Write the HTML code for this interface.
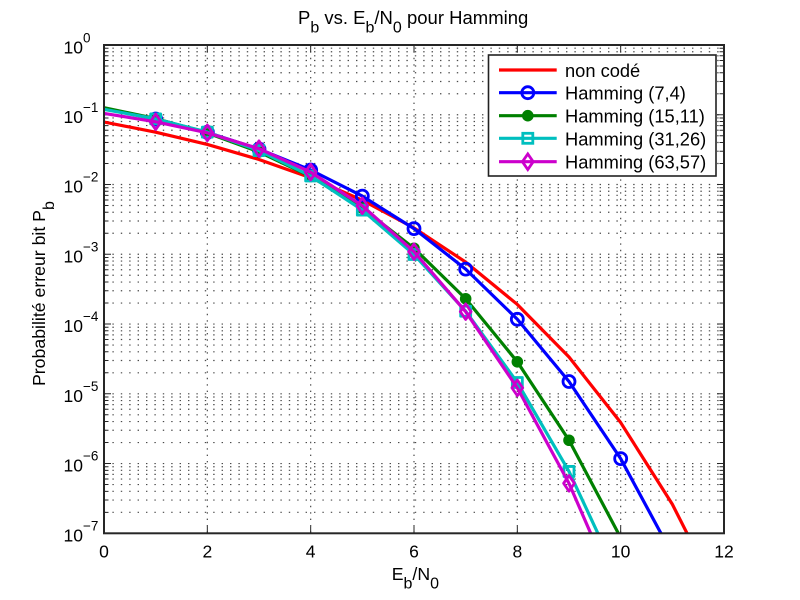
<!DOCTYPE html>
<html><head><meta charset="utf-8"><style>
html,body{margin:0;padding:0;background:#fff;width:800px;height:600px;overflow:hidden;}
svg{display:block;}
text{font-family:"Liberation Sans",Arial,sans-serif;fill:#000;}
</style></head><body>
<svg width="800" height="600" viewBox="0 0 800 600" xmlns="http://www.w3.org/2000/svg" overflow="hidden">
<defs>
<clipPath id="cp"><rect x="104" y="45" width="620" height="488.3"/></clipPath>
<g id="dec">
 <g stroke="#4a4a4a" stroke-width="1.2" stroke-dasharray="1.4 7">
  <line x1="104" x2="724" y1="3.19" y2="3.19"/>
  <line x1="104" x2="724" y1="6.76" y2="6.76"/>
  <line x1="104" x2="724" y1="10.81" y2="10.81"/>
  <line x1="104" x2="724" y1="15.48" y2="15.48"/>
  <line x1="104" x2="724" y1="21.00" y2="21.00"/>
  <line x1="104" x2="724" y1="27.76" y2="27.76"/>
  <line x1="104" x2="724" y1="36.48" y2="36.48"/>
  <line x1="104" x2="724" y1="48.76" y2="48.76"/>
 </g>
 <g stroke="#262626" stroke-width="1">
  <path d="M104 3.19h4.5M104 6.76h4.5M104 10.81h4.5M104 15.48h4.5M104 21h4.5M104 27.76h4.5M104 36.48h4.5M104 48.76h4.5"/>
  <path d="M724 3.19h-4.5M724 6.76h-4.5M724 10.81h-4.5M724 15.48h-4.5M724 21h-4.5M724 27.76h-4.5M724 36.48h-4.5M724 48.76h-4.5"/>
 </g>
</g>
<circle id="mo" r="6" fill="none" stroke="#0000ff" stroke-width="2.8"/>
<circle id="mg" r="5.3" fill="#008000" stroke="#008000" stroke-width="1"/>
<rect id="ms" x="-5" y="-5" width="10" height="10" fill="none" stroke="#00bfbf" stroke-width="2.8"/>
<path id="md" d="M0 -7.8L5.4 0L0 7.8L-5.4 0Z" fill="none" stroke="#cc00cc" stroke-width="2.8"/>
</defs>

<rect width="800" height="600" fill="#fff"/>

<use href="#dec" x="0" y="45"/>
<use href="#dec" x="0" y="114.76"/>
<use href="#dec" x="0" y="184.52"/>
<use href="#dec" x="0" y="254.28"/>
<use href="#dec" x="0" y="324.04"/>
<use href="#dec" x="0" y="393.80"/>
<use href="#dec" x="0" y="463.56"/>

<g stroke="#4a4a4a" stroke-width="1.2" stroke-dasharray="1.4 7">
 <line x1="104" x2="724" y1="114.76" y2="114.76"/>
 <line x1="104" x2="724" y1="184.52" y2="184.52"/>
 <line x1="104" x2="724" y1="254.28" y2="254.28"/>
 <line x1="104" x2="724" y1="324.04" y2="324.04"/>
 <line x1="104" x2="724" y1="393.80" y2="393.80"/>
 <line x1="104" x2="724" y1="463.56" y2="463.56"/>
</g>
<g stroke="#4a4a4a" stroke-width="1.2" stroke-dasharray="1.4 5">
 <line x1="207.33" x2="207.33" y1="45" y2="533.3"/>
 <line x1="310.67" x2="310.67" y1="45" y2="533.3"/>
 <line x1="414" x2="414" y1="45" y2="533.3"/>
 <line x1="517.33" x2="517.33" y1="45" y2="533.3"/>
 <line x1="620.67" x2="620.67" y1="45" y2="533.3"/>
</g>

<g stroke="#262626" stroke-width="1">
 <path d="M104 114.76h7M104 184.52h7M104 254.28h7M104 324.04h7M104 393.8h7M104 463.56h7"/>
 <path d="M724 114.76h-7M724 184.52h-7M724 254.28h-7M724 324.04h-7M724 393.8h-7M724 463.56h-7"/>
 <path d="M207.33 533.3v-7M310.67 533.3v-7M414 533.3v-7M517.33 533.3v-7M620.67 533.3v-7"/>
 <path d="M207.33 45v7M310.67 45v7M414 45v7M517.33 45v7M620.67 45v7"/>
</g>

<g clip-path="url(#cp)" fill="none" stroke-width="3.2" stroke-linejoin="round">
 <polyline stroke="#ff0000" points="104,122.04 155.67,132.18 207.33,144.47 259,159.45 310.67,177.76 362.33,200.23 414,227.91 465.67,262.09 517.33,304.45 569,357.05 620.67,422.55 672.33,504.26 698.17,555.27"/>
 <polyline stroke="#0000ff" points="104,108.39 155.67,119.04 207.33,132.42 259,149.07 310.67,170.00 362.33,196.10 414,228.63 465.67,269.10 517.33,319.28 569,381.53 620.67,458.66 672.33,554.44"/>
 <g>
  <use href="#mo" x="155.67" y="119.04"/><use href="#mo" x="207.33" y="132.42"/><use href="#mo" x="259" y="149.07"/>
  <use href="#mo" x="310.67" y="170.00"/><use href="#mo" x="362.33" y="196.10"/><use href="#mo" x="414" y="228.63"/>
  <use href="#mo" x="465.67" y="269.10"/><use href="#mo" x="517.33" y="319.28"/><use href="#mo" x="569" y="381.53"/>
  <use href="#mo" x="620.67" y="458.66"/>
 </g>
 <polyline stroke="#008000" points="104,107.67 155.67,118.58 207.33,132.98 259,151.89 310.67,176.48 362.33,208.09 414,248.27 465.67,298.76 517.33,361.81 569,440.25 620.67,537.71 631.0,561.95"/>
 <g>
  <use href="#mg" x="155.67" y="118.58"/><use href="#mg" x="207.33" y="132.98"/><use href="#mg" x="259" y="151.89"/>
  <use href="#mg" x="310.67" y="176.48"/><use href="#mg" x="362.33" y="208.09"/><use href="#mg" x="414" y="248.27"/>
  <use href="#mg" x="465.67" y="298.76"/><use href="#mg" x="517.33" y="361.81"/><use href="#mg" x="569" y="440.25"/>
 </g>
 <polyline stroke="#00bfbf" points="104,109.34 155.67,118.88 207.33,132.11 259,150.58 310.67,176.00 362.33,210.10 414,254.53 465.67,311.25 517.33,382.52 569,471.45 610.34,560.03"/>
 <g>
  <use href="#ms" x="155.67" y="118.88"/><use href="#ms" x="207.33" y="132.11"/><use href="#ms" x="259" y="150.58"/>
  <use href="#ms" x="310.67" y="176.00"/><use href="#ms" x="362.33" y="210.10"/><use href="#ms" x="414" y="254.53"/>
  <use href="#ms" x="465.67" y="311.25"/><use href="#ms" x="517.33" y="382.52"/><use href="#ms" x="569" y="471.45"/>
 </g>
 <polyline stroke="#cc00cc" points="104,113.41 155.67,121.78 207.33,132.85 259,148.70 310.67,172.12 362.33,205.76 414,251.67 465.67,311.67 517.33,387.88 569,483.35 600.0,554.74"/>
 <g>
  <use href="#md" x="155.67" y="121.78"/><use href="#md" x="207.33" y="132.85"/><use href="#md" x="259" y="148.70"/>
  <use href="#md" x="310.67" y="172.12"/><use href="#md" x="362.33" y="205.76"/><use href="#md" x="414" y="251.67"/>
  <use href="#md" x="465.67" y="311.67"/><use href="#md" x="517.33" y="387.88"/><use href="#md" x="569" y="483.35"/>
 </g>
</g>

<rect x="104" y="45" width="620" height="488.3" fill="none" stroke="#262626" stroke-width="2"/>

<rect x="488.5" y="55" width="227.5" height="121" fill="#fff" stroke="#222" stroke-width="1.6"/>
<g fill="none" stroke-width="3.2">
 <line x1="499" x2="556.7" y1="70" y2="70" stroke="#ff0000"/>
 <line x1="499" x2="556.7" y1="92.7" y2="92.7" stroke="#0000ff"/>
 <line x1="499" x2="556.7" y1="115.7" y2="115.7" stroke="#008000"/>
 <line x1="499" x2="556.7" y1="138.3" y2="138.3" stroke="#00bfbf"/>
 <line x1="499" x2="556.7" y1="161.7" y2="161.7" stroke="#cc00cc"/>
</g>
<use href="#mo" x="527.8" y="92.7"/>
<use href="#mg" x="527.8" y="115.7"/>
<use href="#ms" x="527.8" y="138.3"/>
<use href="#md" x="527.8" y="161.7"/>
<g font-size="18.3">
 <text x="565" y="77">non codé</text>
 <text x="565" y="99.7">Hamming (7,4)</text>
 <text x="565" y="122.7">Hamming (15,11)</text>
 <text x="565" y="145.3">Hamming (31,26)</text>
 <text x="565" y="168.7">Hamming (63,57)</text>
</g>

<g font-size="17.5" text-anchor="middle">
 <text x="104" y="557.5">0</text>
 <text x="207.33" y="557.5">2</text>
 <text x="310.67" y="557.5">4</text>
 <text x="414" y="557.5">6</text>
 <text x="517.33" y="557.5">8</text>
 <text x="620.67" y="557.5">10</text>
 <text x="724" y="557.5">12</text>
</g>

<g font-size="17.5">
 <text x="63.5" y="53.3">10<tspan font-size="13.5" dy="-11">0</tspan></text>
 <text x="63.5" y="123">10<tspan font-size="13.5" dy="-11">−1</tspan></text>
 <text x="63.5" y="192.7">10<tspan font-size="13.5" dy="-11">−2</tspan></text>
 <text x="63.5" y="262.5">10<tspan font-size="13.5" dy="-11">−3</tspan></text>
 <text x="63.5" y="332.2">10<tspan font-size="13.5" dy="-11">−4</tspan></text>
 <text x="63.5" y="402">10<tspan font-size="13.5" dy="-11">−5</tspan></text>
 <text x="63.5" y="471.7">10<tspan font-size="13.5" dy="-11">−6</tspan></text>
 <text x="63.5" y="541.5">10<tspan font-size="13.5" dy="-11">−7</tspan></text>
</g>

<text x="298" y="24" font-size="18.5">P<tspan font-size="16" dy="8.5">b</tspan><tspan dy="-8.5"> vs. E</tspan><tspan font-size="16" dy="8.5">b</tspan><tspan dy="-8.5">/N</tspan><tspan font-size="16" dy="8.5">0</tspan><tspan dy="-8.5"> pour Hamming</tspan></text>

<text x="391.7" y="580" font-size="17.7">E<tspan font-size="16" dy="8.3">b</tspan><tspan dy="-8.3">/N</tspan><tspan font-size="16" dy="8.3">0</tspan></text>

<text transform="translate(45,386) rotate(-90)" font-size="17.7">Probabilité erreur bit P<tspan font-size="16" dy="9">b</tspan></text>
</svg>
</body></html>
